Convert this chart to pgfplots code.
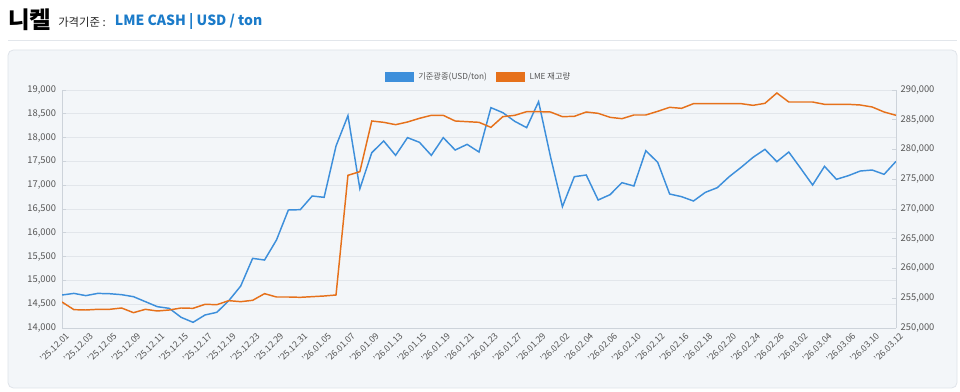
\documentclass[border=0pt]{standalone}
\usepackage{pgfplots}
\pgfplotsset{compat=1.18}
\usepackage{pgfplotstable}
\usepackage{fontspec}
\setmainfont{Noto Sans CJK KR}
\definecolor{bl}{HTML}{3D8FDB}
\definecolor{orn}{HTML}{E6711B}
\definecolor{panel}{HTML}{F3F6F9}
\definecolor{panelb}{HTML}{DFE4EA}
\definecolor{gridc}{HTML}{E2E6EB}
\definecolor{axc}{HTML}{CDD3DA}
\definecolor{tk}{HTML}{555555}
\definecolor{titleblue}{HTML}{1B7BC9}
\pgfplotstableread{
i nickel stock
0 14693 254370
1 14727 253081
2 14680 253025
3 14727 253138
4 14720 253138
5 14700 253362
6 14658 252577
7 14553 253138
8 14448 252857
9 14413 253025
10 14224 253362
11 14119 253306
12 14273 253978
13 14330 253922
14 14574 254594
15 14882 254426
16 15463 254650
17 15428 255771
18 15848 255210
19 16479 255210
20 16486 255154
21 16773 255266
22 16745 255378
23 17824 255546
24 18461 275658
25 16927 276275
26 17683 284790
27 17929 284566
28 17627 284174
29 17999 284622
30 17901 285238
31 17627 285742
32 17999 285742
33 17739 284790
34 17858 284678
35 17697 284566
36 18629 283726
37 18524 285518
38 18342 285742
39 18209 286359
40 18755 286359
41 17599 286303
42 16549 285518
43 17179 285574
44 17214 286303
45 16689 286078
46 16801 285406
47 17053 285182
48 16983 285798
49 17725 285798
50 17480 286415
51 16815 287087
52 16759 286919
53 16668 287703
54 16850 287703
55 16948 287703
56 17179 287703
57 17375 287703
58 17585 287423
59 17753 287759
60 17494 289496
61 17697 287983
62 17354 287983
63 17004 287983
64 17396 287591
65 17123 287591
66 17200 287591
67 17298 287479
68 17319 287143
69 17228 286303
70 17501 285742
}\data
\begin{document}
\begin{tikzpicture}
\useasboundingbox (0,0) rectangle (720pt,294pt);
\fill[white] (0,0) rectangle (720pt,294pt);
% title
\node[anchor=west, inner sep=0pt, font=\fontsize{17.5}{17.5}\selectfont\bfseries] at (6pt,279.5pt) {니켈};
\node[anchor=west, inner sep=0pt, font=\fontsize{8.5}{8.5}\selectfont, text=black!85] at (43.5pt,277.5pt) {가격기준 :};
\node[anchor=west, inner sep=0pt, font=\fontsize{10.5}{10.5}\selectfont\bfseries, text=titleblue] at (86pt,278pt) {LME CASH | USD / ton};
\draw[gridc, line width=0.7pt] (6pt,264pt) -- (717.75pt,264pt);
% panel
\draw[panelb, fill=panel, rounded corners=4pt, line width=0.6pt] (6pt,3pt) rectangle (717.75pt,256.5pt);
\pgfplotsset{
  every axis/.append style={
    scale only axis, width=625.5pt, height=178.5pt,
    at={(46.5pt,48pt)}, anchor=south west,
    xmin=0, xmax=70,
    axis line style={axc, line width=0.6pt},
    tick label style={font=\fontsize{7}{7}\selectfont, text=tk},
    /pgf/number format/assume math mode=true,
    /pgf/number format/fixed,
    /pgf/number format/1000 sep={,},
    scaled y ticks=false,
    major tick length=3pt,
  }
}
\begin{axis}[
  axis y line*=left, axis x line*=bottom,
  ymin=14000, ymax=19000,
  ytick={14000,14500,...,19000},
  ymajorgrids, grid style={gridc, line width=0.5pt},
  ytick style={axc, line width=0.6pt},
  xtick={0,2,...,70},
  xtick style={draw=none},
  xticklabels={'25.12.01,'25.12.03,'25.12.05,'25.12.09,'25.12.11,'25.12.15,'25.12.17,'25.12.19,'25.12.23,'25.12.29,'25.12.31,'26.01.05,'26.01.07,'26.01.09,'26.01.13,'26.01.15,'26.01.19,'26.01.21,'26.01.23,'26.01.27,'26.01.29,'26.02.02,'26.02.04,'26.02.06,'26.02.10,'26.02.12,'26.02.16,'26.02.18,'26.02.20,'26.02.24,'26.02.26,'26.03.02,'26.03.04,'26.03.06,'26.03.10,'26.03.12},
  xticklabel style={rotate=45, anchor=north east, font=\fontsize{6.6}{6.6}\selectfont, text=tk, xshift=3pt, yshift=0pt},
  yticklabel style={xshift=-1pt},
]
\addplot[bl, line width=1.1pt, mark=none] table[x=i, y=nickel] {\data};
\end{axis}
\begin{axis}[
  axis y line*=right, axis x line=none,
  ymin=250000, ymax=290000,
  ytick={250000,255000,...,290000},
  ytick style={axc, line width=0.6pt},
  yticklabel style={xshift=0pt},
  legend style={at={(0.5,1.055)}, anchor=center, draw=none, fill=none,
    font=\fontsize{6.2}{6.2}\selectfont, text=tk, legend columns=2,
    /tikz/every odd column/.append style={column sep=1.5pt},
    /tikz/every even column/.append style={column sep=5pt}},
  legend image code/.code={\fill[#1] (0pt,-3.4pt) rectangle (21pt,3.4pt);},
]
\addlegendimage{bl}
\addlegendentry{기준광종(USD/ton)}
\addlegendimage{orn}
\addlegendentry{LME 재고량}
\addplot[orn, line width=1.1pt, mark=none, forget plot] table[x=i, y=stock] {\data};
\end{axis}
\end{tikzpicture}
\end{document}
